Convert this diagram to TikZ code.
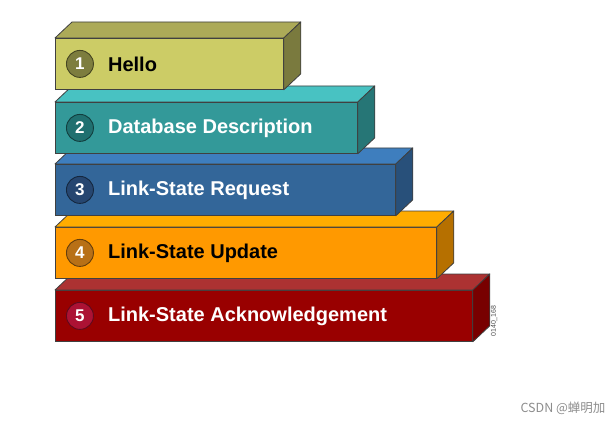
\documentclass[tikz,border=0pt]{standalone}
\usepackage{fontspec}
\setmainfont{Liberation Sans}
\newfontfamily\cjk{Noto Sans CJK SC}
\usetikzlibrary{positioning}

% Cores de cada caixa: frente, topo, lado e círculo.
\definecolor{frente1}{RGB}{204,204,102}
\definecolor{topo1}{RGB}{172,170,88}
\definecolor{lado1}{RGB}{122,122,62}
\definecolor{circ1}{RGB}{125,125,62}
\definecolor{frente2}{RGB}{51,153,153}
\definecolor{topo2}{RGB}{72,194,194}
\definecolor{lado2}{RGB}{38,118,118}
\definecolor{circ2}{RGB}{32,112,112}
\definecolor{frente3}{RGB}{51,102,153}
\definecolor{topo3}{RGB}{62,126,190}
\definecolor{lado3}{RGB}{40,80,122}
\definecolor{circ3}{RGB}{38,70,112}
\definecolor{frente4}{RGB}{255,153,0}
\definecolor{topo4}{RGB}{255,172,0}
\definecolor{lado4}{RGB}{182,112,0}
\definecolor{circ4}{RGB}{184,112,22}
\definecolor{frente5}{RGB}{153,0,0}
\definecolor{topo5}{RGB}{172,50,50}
\definecolor{lado5}{RGB}{120,0,0}
\definecolor{circ5}{RGB}{172,18,52}

\tikzset{
  face/.style={draw=black!75, line width=0.8pt, inner sep=0pt, minimum height=51pt, anchor=north west},
  aresta/.style={draw=black!75, line width=0.8pt, line join=round},
  numero/.style={circle, line width=0.9pt, minimum size=27pt, inner sep=0pt,
    text=white, font=\bfseries\fontsize{17}{19}\selectfont},
  rotulo/.style={inner sep=0pt, anchor=west, font=\bfseries\fontsize{20}{24}\selectfont}
}

\begin{document}
\begin{tikzpicture}[x=1pt, y=-1pt]
    \useasboundingbox (0,0) rectangle (616,425);

    % Caixas empilhadas, de baixo para cima.
    \foreach \i/\dir/\alto/\cor/\nome in {5/472/290/white/Link-State Acknowledgement,
        4/436/227/black/Link-State Update, 3/395/164/white/Link-State Request,
        2/357/102/white/Database Description, 1/283/38/black/Hello} {
      \node[face, fill=frente\i, minimum width={(\dir-55)*1pt}] (f\i) at (55,\alto) {};
      \filldraw[aresta, fill=topo\i] (f\i.north west) -- ++(17,-16)
        -- ([shift={(17,-16)}]f\i.north east) -- (f\i.north east) -- cycle;
      \filldraw[aresta, fill=lado\i] (f\i.north east) -- ++(17,-16)
        -- ([shift={(17,-16)}]f\i.south east) -- (f\i.south east) -- cycle;
      \node[numero, fill=circ\i, draw=circ\i!55!black, right=11pt of f\i.west, anchor=west] (n\i) {\i};
      \node[rotulo, text=\cor, right=14pt of n\i] (t\i) {\nome};
    }

    % Código da figura e marca d'água.
    \node[rotate=90, text=black!70, font=\fontsize{7}{8}\selectfont] (cod) at (494,321) {0140\_168};
    \node[text=black!45, font=\cjk\fontsize{12.5}{14}\selectfont] (marca) at (563,408) {CSDN @蝉明加};
  \end{tikzpicture}
\end{document}
